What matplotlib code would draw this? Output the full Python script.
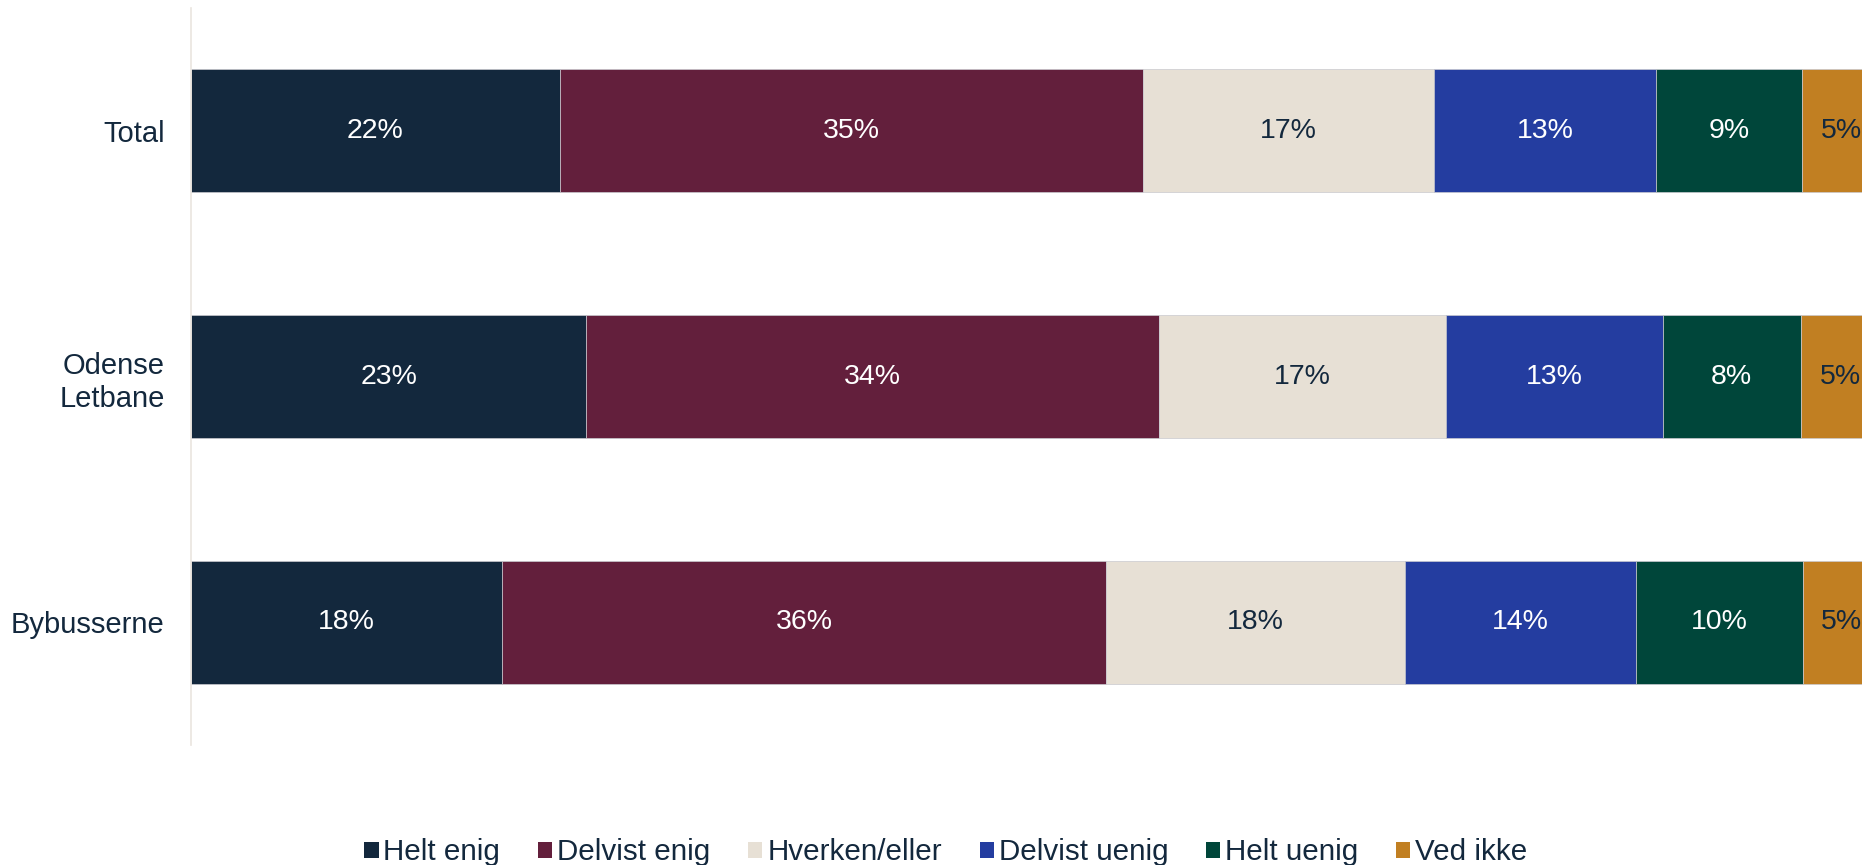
import matplotlib
matplotlib.use("Agg")
import matplotlib.pyplot as plt
import numpy as np

plt.rcParams['font.family'] = ['Liberation Sans', 'DejaVu Sans']

categories = ["Total", "Odense\nLetbane", "Bybusserne"]
series = ["Helt enig", "Delvist enig", "Hverken/eller", "Delvist uenig", "Helt uenig", "Ved ikke"]
helt_enig     = [21.82, 23.39, 18.43]
delvist_enig  = [34.54, 33.93, 35.76]
hverken_eller = [17.25, 16.99, 17.68]
delvist_uenig = [13.11, 12.81, 13.68]
helt_uenig    = [8.66, 8.19, 9.86]
ved_ikke      = [4.62, 4.69, 4.59]
values = [helt_enig, delvist_enig, hverken_eller, delvist_uenig, helt_uenig, ved_ikke]

colors = ["#13283D", "#631F3C", "#E7E0D5", "#243DA0", "#00463A", "#C17F22"]
text_colors = ["white", "white", "#13283D", "white", "white", "#13283D"]
dark = "#13283D"

fig = plt.figure(figsize=(18.62, 8.65), dpi=100)
ax = fig.add_axes([0.1026, 0.1387, 0.9071, 0.852])

y = np.arange(len(categories))
left = np.zeros(len(categories))
for vals, col, tcol, name in zip(values, colors, text_colors, series):
    vals = np.array(vals)
    ax.barh(y, vals, left=left, height=0.5, color=col, label=name,
            edgecolor="#c9c9cf", linewidth=0.5)
    for xi, yi, v in zip(left + vals / 2, y, vals):
        ax.text(xi, yi, f"{int(np.floor(v + 0.5))}%", ha="center", va="center",
                color=tcol, fontsize=20.5)
    left += vals

ax.set_xlim(0, 100)
ax.set_ylim(2.5, -0.5)
ax.set_yticks(y)
ax.set_yticklabels(categories, fontsize=21, color=dark, linespacing=1.25)
ax.tick_params(axis="y", length=0, pad=19)
ax.set_xticks([])
for s in ["top", "right", "bottom"]:
    ax.spines[s].set_visible(False)
ax.spines["left"].set_color("#EAE5DF")
ax.spines["left"].set_linewidth(1.2)

leg = fig.legend(loc="center", bbox_to_anchor=(0.508, 0.0145), ncol=6,
                 frameon=False, fontsize=21.3, handlelength=0.48, handleheight=0.48,
                 handletextpad=0.16, columnspacing=1.28, borderpad=0, borderaxespad=0)
for t in leg.get_texts():
    t.set_color(dark)
for h in leg.legend_handles:
    h.set_linewidth(0)

fig.savefig("out.png", dpi=100)
